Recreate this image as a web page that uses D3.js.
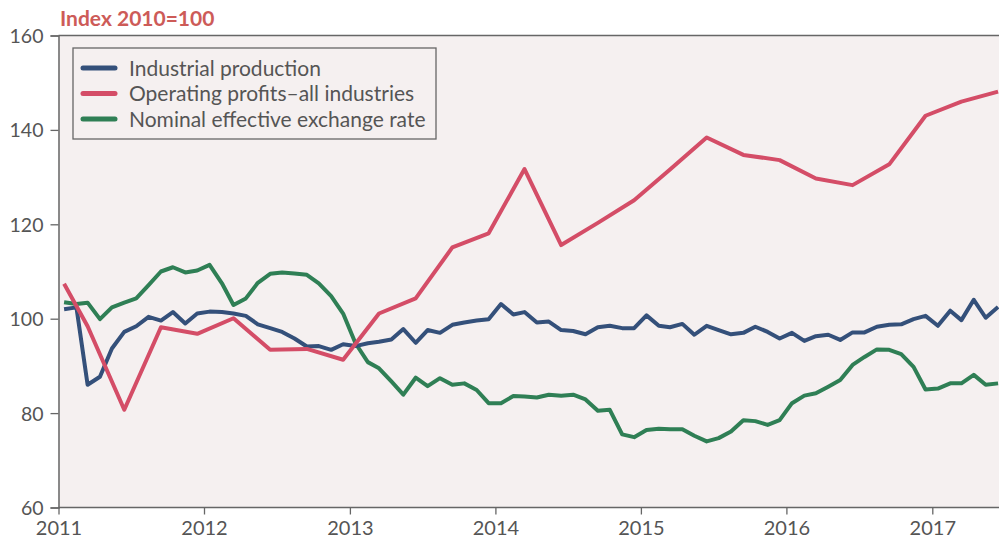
<!DOCTYPE html>
<html>
<head>
<meta charset="utf-8">
<script src="https://cdn.jsdelivr.net/npm/d3@7"></script>
<style>
  html, body { margin: 0; padding: 0; background: #ffffff; }
  svg { display: block; }
  text { font-family: Lato, "Open Sans", sans-serif; }
</style>
</head>
<body>
<div id="chart"></div>
<script>
// Monthly series, January 2011 – June 2017 (index 2010 = 100)
const monthStart = "2011-01";
const industrialProduction = [
  102.0, 102.4, 86.0, 87.7, 93.7, 97.2, 98.4, 100.4, 99.6, 101.4, 99.0, 101.1,
  101.5, 101.4, 101.1, 100.6, 98.8, 98.0, 97.2, 95.8, 94.1, 94.2, 93.4, 94.6,
  94.2, 94.8, 95.1, 95.6, 97.8, 94.9, 97.6, 97.0, 98.7, 99.2, 99.6, 99.9,
  103.1, 100.9, 101.4, 99.2, 99.4, 97.6, 97.4, 96.7, 98.2, 98.5, 98.0, 98.0,
  100.7, 98.5, 98.2, 98.9, 96.6, 98.5, 97.6, 96.7, 97.0, 98.3, 97.2, 95.8,
  97.0, 95.3, 96.3, 96.6, 95.5, 97.1, 97.1, 98.3, 98.7, 98.8, 99.9, 100.6,
  98.5, 101.7, 99.7, 104.0, 100.2, 102.5
];
const exchangeRate = [
  103.5, 103.1, 103.4, 99.9, 102.4, 103.4, 104.3, 107.1, 110.0, 110.9, 109.8, 110.2,
  111.4, 107.5, 102.9, 104.3, 107.6, 109.5, 109.8, 109.6, 109.3, 107.5, 104.8, 101.1,
  94.8, 90.8, 89.5, 86.7, 83.9, 87.5, 85.7, 87.4, 86.0, 86.3, 84.9, 82.1,
  82.1, 83.6, 83.5, 83.3, 83.9, 83.7, 83.9, 82.9, 80.5, 80.7, 75.5, 74.9,
  76.4, 76.7, 76.6, 76.6, 75.2, 74.0, 74.7, 76.1, 78.5, 78.3, 77.5, 78.5,
  82.1, 83.7, 84.2, 85.6, 87.0, 90.2, 91.9, 93.5, 93.4, 92.5, 89.8, 85.0,
  85.2, 86.3, 86.3, 88.1, 86.0, 86.3
];

// Operating profits are reported for quarter-end months
const profitMonths = [
  "2011-01", "2011-03", "2011-06", "2011-09", "2011-12",
  "2012-03", "2012-06", "2012-09", "2012-12",
  "2013-03", "2013-06", "2013-09", "2013-12",
  "2014-03", "2014-06", "2014-09", "2014-12",
  "2015-03", "2015-06", "2015-09", "2015-12",
  "2016-03", "2016-06", "2016-09", "2016-12",
  "2017-03", "2017-06"
];
const operatingProfits = [
  107.4, 98.4, 80.7, 98.2, 96.8,
  100.1, 93.4, 93.6, 91.3,
  101.1, 104.3, 115.1, 118.1,
  131.7, 115.6, 120.3, 125.1,
  131.6, 138.4, 134.7, 133.6,
  129.7, 128.3, 132.7, 143.0,
  146.0, 148.1
];

const yTicks = [60, 80, 100, 120, 140, 160];
const xTickYears = [2011, 2012, 2013, 2014, 2015, 2016, 2017];
const seriesNames = ["Industrial production", "Operating profits\u2013all industries", "Nominal effective exchange rate"];
const seriesColors = ["#34507a", "#d44d67", "#2f7f55"];
const unitLabel = "Index 2010=100";

const W = 999, H = 542;
const plotLeft = 58.5, plotTop = 35.5, plotBottom = 507.5, plotRight = 999;

const parseMonth = d3.timeParse("%Y-%m");
const midMonth = s => { const d = parseMonth(s); return new Date(d.getFullYear(), d.getMonth(), 15); };
const firstMonth = parseMonth(monthStart);
const monthDates = industrialProduction.map((_, i) => {
  const d = d3.timeMonth.offset(firstMonth, i);
  return new Date(d.getFullYear(), d.getMonth(), 15);
});

const x = d3.scaleTime()
  .domain([new Date(2011, 0, 1), new Date(2017, 0, 1)])
  .range([plotLeft, 932.3]);
const y = d3.scaleLinear().domain([60, 160]).range([plotBottom, plotTop]);

const svg = d3.select("#chart").append("svg").attr("width", W).attr("height", H);

svg.append("defs").append("clipPath").attr("id", "plotClip")
  .append("rect").attr("x", plotLeft).attr("y", plotTop - 5)
  .attr("width", plotRight - plotLeft).attr("height", plotBottom - plotTop + 10);

// plot background
svg.append("rect").attr("x", plotLeft).attr("y", plotTop)
  .attr("width", plotRight - plotLeft).attr("height", plotBottom - plotTop)
  .attr("fill", "#f5f0f0");

// top frame line
svg.append("line").attr("x1", plotLeft).attr("x2", plotRight).attr("y1", plotTop).attr("y2", plotTop)
  .attr("stroke", "#666").attr("stroke-width", 1.5);

// y axis
const yAxis = d3.axisLeft(y).tickValues(yTicks).tickSize(8).tickPadding(7).tickFormat(d3.format("d"));
const gy = svg.append("g").attr("transform", `translate(${plotLeft},0)`).call(yAxis);
gy.select(".domain").attr("stroke", "#666").attr("stroke-width", 1.5);
gy.selectAll(".tick line").attr("stroke", "#666").attr("stroke-width", 1.3);
gy.selectAll(".tick text").attr("fill", "#555").style("font-size", "19.5px").attr("dy", "0.36em");

// x axis
const xAxis = d3.axisBottom(x).tickValues(xTickYears.map(yr => new Date(yr, 0, 1)))
  .tickSize(7).tickPadding(6).tickFormat(d3.timeFormat("%Y"));
const gx = svg.append("g").attr("transform", `translate(0,${plotBottom})`).call(xAxis);
gx.select(".domain").attr("d", `M${plotLeft},0H${plotRight}`).attr("stroke", "#666").attr("stroke-width", 1.5);
gx.selectAll(".tick line").attr("stroke", "#666").attr("stroke-width", 1.3);
gx.selectAll(".tick text").attr("fill", "#555").style("font-size", "20px");

// unit label
svg.append("text").attr("x", 60).attr("y", 25.5).text(unitLabel)
  .attr("fill", "#cd5b58").style("font-size", "21px").style("font-weight", "bold");

// series lines
const line = d3.line().x(d => x(d[0])).y(d => y(d[1]));
const plot = svg.append("g").attr("clip-path", "url(#plotClip)");
const seriesData = [
  industrialProduction.map((v, i) => [monthDates[i], v]),
  operatingProfits.map((v, i) => [midMonth(profitMonths[i]), v]),
  exchangeRate.map((v, i) => [monthDates[i], v])
];
// draw order: exchange rate, production, profits
[2, 0, 1].forEach(k => {
  plot.append("path").datum(seriesData[k]).attr("d", line)
    .attr("fill", "none").attr("stroke", seriesColors[k]).attr("stroke-width", 4)
    .attr("stroke-linejoin", "round").attr("stroke-linecap", "butt");
});

// legend
const lg = svg.append("g");
lg.append("rect").attr("x", 73).attr("y", 48).attr("width", 363).attr("height", 91)
  .attr("fill", "#f5f0f0").attr("stroke", "#666").attr("stroke-width", 1.3);
seriesNames.forEach((name, i) => {
  const cy = 68 + i * 25.5;
  lg.append("line").attr("x1", 83).attr("x2", 115).attr("y1", cy).attr("y2", cy)
    .attr("stroke", seriesColors[i]).attr("stroke-width", 5).attr("stroke-linecap", "round");
  lg.append("text").attr("x", 129).attr("y", cy + 7.5).text(name)
    .attr("fill", "#555").style("font-size", "21px");
});
</script>
</body>
</html>
